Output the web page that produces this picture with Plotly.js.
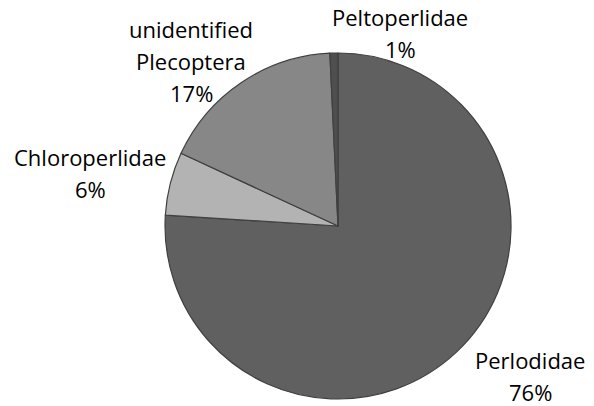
<!DOCTYPE html>
<html><head><meta charset="utf-8">
<script src="https://cdn.plot.ly/plotly-3.0.1.min.js"></script>
<style>html,body{margin:0;padding:0;background:#fff}#chart{width:594px;height:406px}</style>
</head><body><div id="chart"></div>
<script>
var labels = ["Perlodidae", "Chloroperlidae", "unidentified<br>Plecoptera", "Peltoperlidae"];
var values = [76.0, 5.9, 17.35, 0.75];
var colors = ["#606060", "#b3b3b3", "#878787", "#4f4f4f"];

var W = 594, H = 406;
// label block anchor: center x and first-line center y, in pixels
var labelPx = [[530, 360], [90, 157], [191, 29], [400, 17]];
var lineGap = 32;

var total = values.reduce(function(a,b){return a+b;},0);
var annotations = [];
labels.forEach(function(l,i){
  var lines = l.split("<br>").concat([Math.round(values[i]/total*100) + "%"]);
  lines.forEach(function(t,j){
    var py = labelPx[i][1] + j*lineGap;
    annotations.push({text: t, x: labelPx[i][0]/W, y: 1 - py/H, xref:"paper", yref:"paper",
      showarrow:false, xanchor:"center", yanchor:"middle",
      font:{family:"Open Sans, sans-serif", size:22, color:"#000"}});
  });
});
var trace = {
  type:"pie", labels: labels, values: values, sort:false, direction:"clockwise",
  rotation:0, textinfo:"none", hoverinfo:"label+percent",
  marker:{colors: colors, line:{color:"#404040", width:1.2}},
  domain:{x:[0.2778,0.8603], y:[0.0172,0.8695]}
};
Plotly.newPlot("chart",[trace],{width:W,height:H,margin:{l:0,r:0,t:0,b:0},
  showlegend:false, paper_bgcolor:"#fff", annotations: annotations},{displayModeBar:false,staticPlot:true});
</script></body></html>
